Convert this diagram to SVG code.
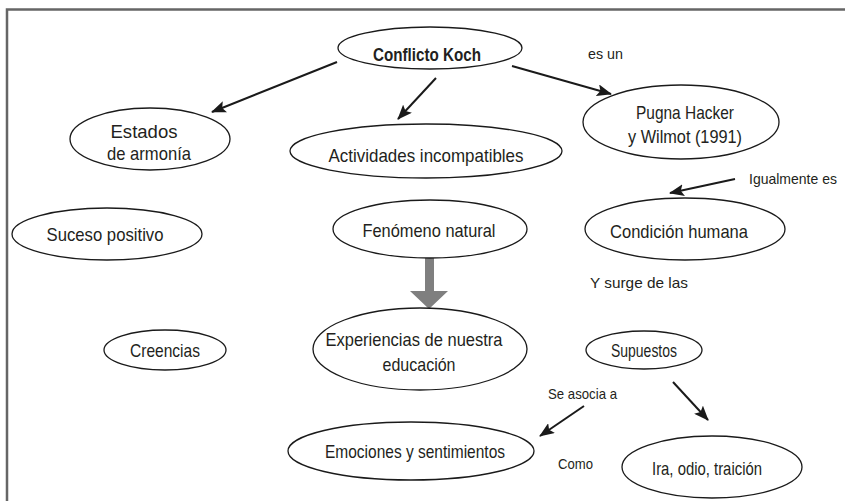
<svg xmlns="http://www.w3.org/2000/svg" width="845" height="501" viewBox="0 0 845 501">
<style>
.n ellipse{fill:#fff;stroke:#1a1a1a;stroke-width:1.3}
.t{font-family:"Liberation Sans",Arial,sans-serif;font-size:19px;fill:#231f20;text-anchor:middle}
.b{font-weight:bold;font-size:19px}
.s{font-family:"Liberation Sans",Arial,sans-serif;font-size:15px;fill:#231f20}
.c line{stroke:#1a1a1a;stroke-width:2;marker-end:url(#ah)}
</style>
<defs>
<marker id="ah" markerWidth="15" markerHeight="12" refX="14" refY="6" orient="auto" markerUnits="userSpaceOnUse"><path d="M0,0 L15,6 L0,12 L3,6 z" fill="#1a1a1a"/></marker>
</defs>
<rect width="845" height="501" fill="#fff"/>
<path d="M7,501 V9.5 H845" fill="none" stroke="#666" stroke-width="2.5"/>

<g id="connectors">
<g class="c">
<line x1="337" y1="62" x2="212" y2="112"/>
<line x1="436" y1="78" x2="398" y2="119"/>
<line x1="512" y1="66" x2="611" y2="94"/>
<line x1="735" y1="179" x2="670" y2="193"/>
<line x1="584" y1="406" x2="540" y2="436"/>
<line x1="673" y1="382" x2="708" y2="420"/>
</g>
<path d="M425,258 H434 V291 H448 L429,309 L410,291 H425 Z" fill="#7f7f7f"/>
</g>

<g id="n-conflicto" class="n"><ellipse cx="430" cy="48" rx="92" ry="21"/><text class="t b" x="427" y="61" textLength="108" lengthAdjust="spacingAndGlyphs">Conflicto Koch</text></g>
<g id="n-estados" class="n"><ellipse cx="150" cy="139" rx="80" ry="31"/><text class="t" x="144" y="138" textLength="67" lengthAdjust="spacingAndGlyphs">Estados</text><text class="t" x="149" y="160" textLength="84" lengthAdjust="spacingAndGlyphs">de armonía</text></g>
<g id="n-actividades" class="n"><ellipse cx="426" cy="151" rx="136" ry="27"/><text class="t" x="426" y="162" textLength="195" lengthAdjust="spacingAndGlyphs">Actividades incompatibles</text></g>
<g id="n-pugna" class="n"><ellipse cx="681" cy="122" rx="98" ry="37"/><text class="t" x="685" y="119" textLength="98" lengthAdjust="spacingAndGlyphs">Pugna Hacker</text><text class="t" x="685" y="143" textLength="114" lengthAdjust="spacingAndGlyphs">y Wilmot (1991)</text></g>
<g id="n-suceso" class="n"><ellipse cx="107" cy="234" rx="95" ry="26"/><text class="t" x="105" y="241" textLength="117" lengthAdjust="spacingAndGlyphs">Suceso positivo</text></g>
<g id="n-fenomeno" class="n"><ellipse cx="430" cy="229" rx="97" ry="29"/><text class="t" x="429" y="237" textLength="133" lengthAdjust="spacingAndGlyphs">Fenómeno natural</text></g>
<g id="n-condicion" class="n"><ellipse cx="685" cy="229" rx="100" ry="31"/><text class="t" x="679" y="238" textLength="138" lengthAdjust="spacingAndGlyphs">Condición humana</text></g>
<g id="n-creencias" class="n"><ellipse cx="165" cy="350" rx="61" ry="20"/><text class="t" x="165" y="357" textLength="70" lengthAdjust="spacingAndGlyphs">Creencias</text></g>
<g id="n-experiencias" class="n"><ellipse cx="420" cy="349" rx="107" ry="41"/><text class="t" x="414" y="346" textLength="177" lengthAdjust="spacingAndGlyphs">Experiencias de nuestra</text><text class="t" x="419" y="371" textLength="73" lengthAdjust="spacingAndGlyphs">educación</text></g>
<g id="n-supuestos" class="n"><ellipse cx="644" cy="350" rx="58" ry="19"/><text class="t" x="644" y="357" textLength="66" lengthAdjust="spacingAndGlyphs">Supuestos</text></g>
<g id="n-emociones" class="n"><ellipse cx="411" cy="451" rx="123" ry="29"/><text class="t" x="415" y="458" textLength="180" lengthAdjust="spacingAndGlyphs">Emociones y sentimientos</text></g>
<g id="n-ira" class="n"><ellipse cx="712" cy="467" rx="90" ry="31"/><text class="t" x="707" y="475" textLength="110" lengthAdjust="spacingAndGlyphs">Ira, odio, traición</text></g>

<g id="labels">
<text class="s" x="588" y="59" textLength="35" lengthAdjust="spacingAndGlyphs">es un</text>
<text class="s" x="749" y="184" textLength="88" lengthAdjust="spacingAndGlyphs">Igualmente es</text>
<text class="s" x="590" y="288" textLength="98" lengthAdjust="spacingAndGlyphs">Y surge de las</text>
<text class="s" x="548" y="399" textLength="69" lengthAdjust="spacingAndGlyphs">Se asocia a</text>
<text class="s" x="558" y="469" textLength="35" lengthAdjust="spacingAndGlyphs">Como</text>
</g>
</svg>
